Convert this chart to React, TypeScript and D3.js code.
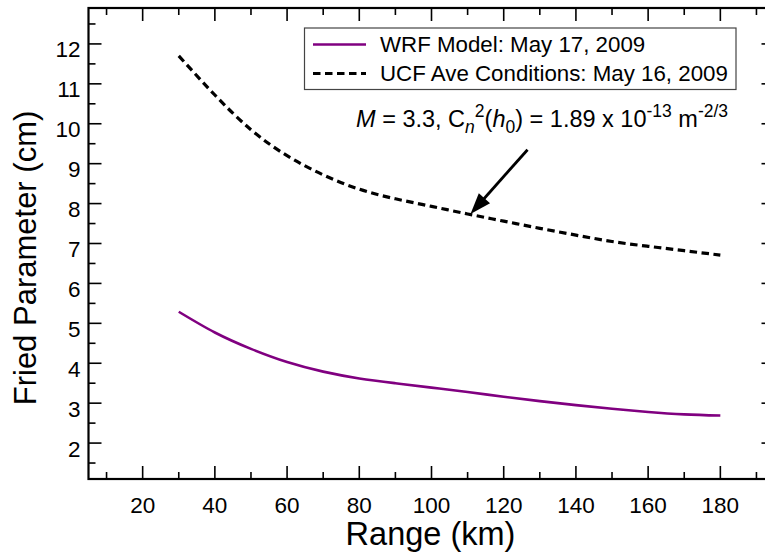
import React from "react";
import * as d3 from "d3";

const ranges = [30, 40, 50, 60, 70, 80, 90, 100, 110, 120, 130, 140, 150, 160, 170, 180];
const wrfValues = [5.29, 4.77, 4.36, 4.03, 3.79, 3.62, 3.5, 3.39, 3.28, 3.16, 3.05, 2.95, 2.86, 2.78, 2.72, 2.69];
const ucfValues = [11.7, 10.72, 9.85, 9.2, 8.72, 8.36, 8.12, 7.93, 7.74, 7.56, 7.38, 7.21, 7.05, 6.93, 6.82, 6.71];
const xMajorTicks = [20, 40, 60, 80, 100, 120, 140, 160, 180];
const xMinorTicks = [10, 30, 50, 70, 90, 110, 130, 150, 170, 190];
const yMajorTicks = [2, 3, 4, 5, 6, 7, 8, 9, 10, 11, 12];
const yMinorTicks = [1.5, 2.5, 3.5, 4.5, 5.5, 6.5, 7.5, 8.5, 9.5, 10.5, 11.5, 12.5];
const seriesNames = ["WRF Model: May 17, 2009", "UCF Ave Conditions: May 16, 2009"];
const arrowTail = { x: 126.6, y: 9.35 };
const arrowTip = { x: 110.8, y: 7.74 };
const annotationAnchor = { x: 79.1, y: 9.93 };

const FONT = "'Liberation Sans', Arial, sans-serif";

export default function App() {
  const left = 88.5, right = 774.5, top = 8, bottom = 479;
  const x = d3.scaleLinear().domain([5, 195]).range([left, right]);
  const y = d3.scaleLinear().domain([1.1, 12.9]).range([bottom, top]);
  const line = d3
    .line<number>()
    .x((_, i) => x(ranges[i]))
    .y((d) => y(d))
    .curve(d3.curveNatural);

  const majLen = 13, minLen = 7;
  const ax = x(arrowTail.x), ay = y(arrowTail.y), tx = x(arrowTip.x), ty = y(arrowTip.y);
  const dx = tx - ax, dy = ty - ay;
  const len = Math.hypot(dx, dy);
  const ux = dx / len, uy = dy / len;
  const headLen = 21, headHalf = 7.5;
  const bx = tx - ux * headLen, by = ty - uy * headLen;
  const head = `M${tx},${ty} L${bx - uy * headHalf},${by + ux * headHalf} L${bx + uy * headHalf},${by - ux * headHalf} Z`;

  return (
    <svg width={765} height={554} style={{ position: "absolute", left: 0, top: 0, background: "#fff" }} fontFamily={FONT}>
      <rect x={0} y={0} width={765} height={554} fill="#fff" />

      {/* ticks */}
      <g stroke="#000" strokeWidth={1.6}>
        {xMajorTicks.map((t) => (
          <g key={"xM" + t}>
            <line x1={x(t)} x2={x(t)} y1={bottom} y2={bottom - majLen} />
            <line x1={x(t)} x2={x(t)} y1={top} y2={top + majLen} />
          </g>
        ))}
        {xMinorTicks.map((t) => (
          <g key={"xm" + t}>
            <line x1={x(t)} x2={x(t)} y1={bottom} y2={bottom - minLen} />
            <line x1={x(t)} x2={x(t)} y1={top} y2={top + minLen} />
          </g>
        ))}
        {yMajorTicks.map((t) => (
          <g key={"yM" + t}>
            <line x1={left} x2={left + majLen} y1={y(t)} y2={y(t)} />
            <line x1={right} x2={right - majLen} y1={y(t)} y2={y(t)} />
          </g>
        ))}
        {yMinorTicks.map((t) => (
          <g key={"ym" + t}>
            <line x1={left} x2={left + minLen} y1={y(t)} y2={y(t)} />
            <line x1={right} x2={right - minLen} y1={y(t)} y2={y(t)} />
          </g>
        ))}
      </g>

      {/* frame */}
      <rect x={left} y={top} width={right - left} height={bottom - top} fill="none" stroke="#000" strokeWidth={2.2} />

      {/* tick labels */}
      <g fontSize={22.5} fill="#000">
        {xMajorTicks.map((t) => (
          <text key={"xl" + t} x={x(t)} y={512.5} textAnchor="middle">
            {t}
          </text>
        ))}
        {yMajorTicks.map((t) => (
          <text key={"yl" + t} x={80.5} y={y(t) + 13.5} textAnchor="end">
            {t}
          </text>
        ))}
      </g>

      {/* axis titles */}
      <text x={(left + right) / 2 - 1} y={545} textAnchor="middle" fontSize={32.5}>
        Range (km)
      </text>
      <text transform={`translate(36, 258) rotate(-90)`} textAnchor="middle" fontSize={31}>
        Fried Parameter (cm)
      </text>

      {/* series */}
      <path d={line(wrfValues) || ""} fill="none" stroke="#800080" strokeWidth={2.6} />
      <path d={line(ucfValues) || ""} fill="none" stroke="#000" strokeWidth={3.2} strokeDasharray="7.5,4.5" />

      {/* legend */}
      <rect x={304.5} y={28} width={431.5} height={61.5} fill="#fff" stroke="#444" strokeWidth={1.2} />
      <line x1={313} x2={366} y1={44.5} y2={44.5} stroke="#800080" strokeWidth={2.6} />
      <line x1={313} x2={366} y1={73.5} y2={73.5} stroke="#000" strokeWidth={3.2} strokeDasharray="7.5,4.5" />
      <text x={380} y={52} fontSize={22.3}>{seriesNames[0]}</text>
      <text x={380} y={81} fontSize={22.3}>{seriesNames[1]}</text>

      {/* annotation */}
      <text x={x(annotationAnchor.x)} y={y(annotationAnchor.y)} fontSize={23.5}>
        <tspan fontStyle="italic">M</tspan>
        <tspan> = 3.3, C</tspan>
        <tspan fontStyle="italic" fontSize={17.5} dy={6}>n</tspan>
        <tspan fontSize={17.5} dy={-16}>2</tspan>
        <tspan dy={10}>(</tspan>
        <tspan fontStyle="italic">h</tspan>
        <tspan fontSize={17.5} dy={6}>0</tspan>
        <tspan dy={-6}>) = 1.89 x 10</tspan>
        <tspan fontSize={17.5} dy={-10}>-13</tspan>
        <tspan dy={10}> m</tspan>
        <tspan fontSize={17.5} dy={-10}>-2/3</tspan>
      </text>

      {/* arrow */}
      <line x1={ax} y1={ay} x2={bx + ux * 2} y2={by + uy * 2} stroke="#000" strokeWidth={2.8} />
      <path d={head} fill="#000" />
    </svg>
  );
}
